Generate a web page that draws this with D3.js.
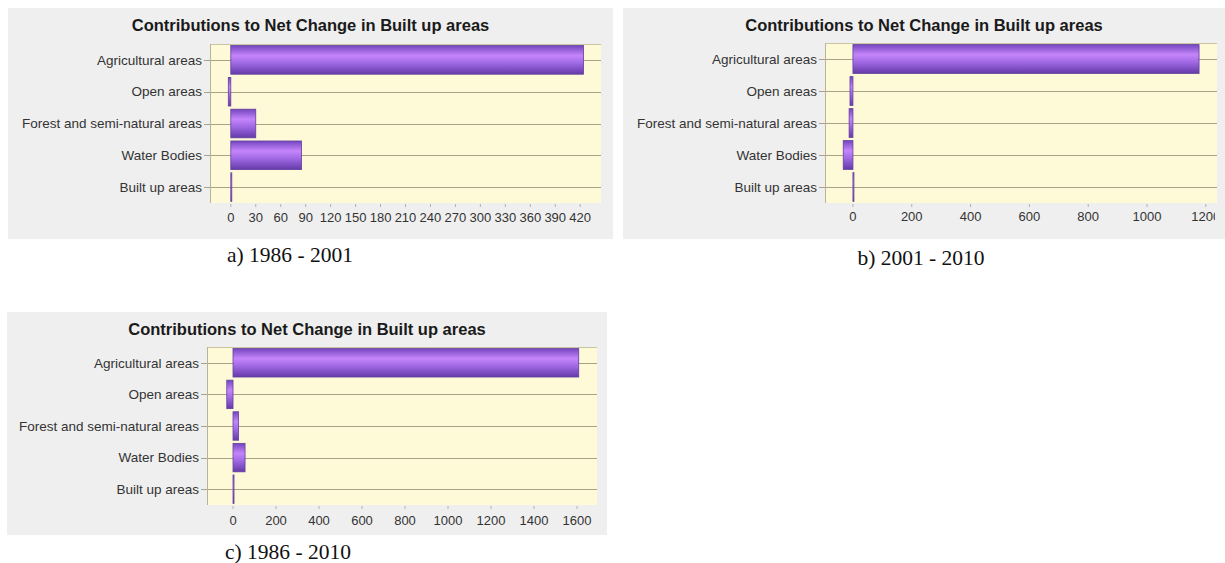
<!DOCTYPE html>
<html>
<head>
<meta charset="utf-8">
<script src="https://cdn.jsdelivr.net/npm/d3@7"></script>
<style>
  body { margin: 0; background: #fff; }
  svg { display: block; font-family: "Liberation Sans", Arial, sans-serif; }
</style>
</head>
<body>
<svg width="1225" height="563"></svg>
<script>
// categories (top to bottom)
const categories = ["Agricultural areas", "Open areas", "Forest and semi-natural areas", "Water Bodies", "Built up areas"]

// net change values
const values1986_2001 = [424, -3, 30, 85, 1]
const values2001_2010 = [1177, -10, -13, -33, 1]
const values1986_2010 = [1608, -29, 26, 56, 1]

// x tick labels
const ticks1986_2001 = [0, 30, 60, 90, 120, 150, 180, 210, 240, 270, 300, 330, 360, 390, 420]
const ticks2001_2010 = [0, 200, 400, 600, 800, 1000, 1200]
const ticks1986_2010 = [0, 200, 400, 600, 800, 1000, 1200, 1400, 1600]

const captions = ["a) 1986 - 2001", "b) 2001 - 2010", "c) 1986 - 2010"]
const title = "Contributions to Net Change in Built up areas"

let svg = d3.select("svg")

// bar gradient
let defs = svg.append("defs")
let grad = defs.append("linearGradient")
    .attr("id", "barGrad")
    .attr("x1", 0).attr("y1", 0).attr("x2", 0).attr("y2", 1)
grad.append("stop").attr("offset", "0%").attr("stop-color", "#7446c0")
grad.append("stop").attr("offset", "35%").attr("stop-color", "#c585fa")
grad.append("stop").attr("offset", "60%").attr("stop-color", "#a26ae6")
grad.append("stop").attr("offset", "100%").attr("stop-color", "#643aa8")

const panels = [
  {values: values1986_2001, ticks: ticks1986_2001, domain: [-25, 445], caption: captions[0],
   box: {x: 8, y: 8, w: 605, h: 231}, plot: {x0: 210, x1: 601, y0: 44, y1: 203},
   titleY: 31, tickY: 222, capX: 290, capY: 262, clip: null},
  {values: values2001_2010, ticks: ticks2001_2010, domain: [-95, 1238], caption: captions[1],
   box: {x: 623, y: 8, w: 602, h: 231}, plot: {x0: 825, x1: 1217, y0: 43, y1: 203},
   titleY: 31, tickY: 221, capX: 921, capY: 265, clip: 1215},
  {values: values1986_2010, ticks: ticks1986_2010, domain: [-121, 1693], caption: captions[2],
   box: {x: 7, y: 312, w: 600, h: 223}, plot: {x0: 207, x1: 597, y0: 347, y1: 505},
   titleY: 335, tickY: 525, capX: 288, capY: 559, clip: null}
]

panels.forEach((p, i) => drawPanel(p, i))

function drawPanel(p, i) {
  let g = svg.append("g")

  // gray frame
  g.append("rect")
    .attr("x", p.box.x).attr("y", p.box.y)
    .attr("width", p.box.w).attr("height", p.box.h)
    .attr("fill", "#efefef")

  g.append("text")
    .attr("x", p.box.x + p.box.w / 2)
    .attr("y", p.titleY)
    .attr("text-anchor", "middle")
    .attr("font-size", "16.5px")
    .attr("font-weight", "bold")
    .attr("fill", "#1a1a1a")
    .text(title)

  let x = d3.scaleLinear().domain(p.domain).range([p.plot.x0, p.plot.x1])
  let y = d3.scaleBand().domain(categories).range([p.plot.y0, p.plot.y1])
      .paddingInner(0.1).paddingOuter(0.05)

  // plot background
  g.append("rect")
    .attr("x", p.plot.x0).attr("y", p.plot.y0)
    .attr("width", p.plot.x1 - p.plot.x0).attr("height", p.plot.y1 - p.plot.y0)
    .attr("fill", "#fef9d7")

  // top border
  g.append("line")
    .attr("x1", p.plot.x0).attr("x2", p.plot.x1)
    .attr("y1", p.plot.y0 + 0.5).attr("y2", p.plot.y0 + 0.5)
    .attr("stroke", "#c9c4a4")

  // grid lines through category centres
  g.selectAll(".grid")
    .data(categories)
    .enter().append("line")
    .attr("x1", p.plot.x0 - 6).attr("x2", p.plot.x1)
    .attr("y1", d => Math.round(y(d) + y.bandwidth() / 2) + 0.5)
    .attr("y2", d => Math.round(y(d) + y.bandwidth() / 2) + 0.5)
    .attr("stroke", "#a8a386")
    .attr("stroke-width", 1)

  // y axis line
  g.append("line")
    .attr("x1", p.plot.x0 + 0.5).attr("x2", p.plot.x0 + 0.5)
    .attr("y1", p.plot.y0).attr("y2", p.plot.y1)
    .attr("stroke", "#b8b49a")

  // category labels
  g.selectAll(".cat")
    .data(categories)
    .enter().append("text")
    .attr("x", p.plot.x0 - 8)
    .attr("y", d => y(d) + y.bandwidth() / 2)
    .attr("dy", "0.35em")
    .attr("text-anchor", "end")
    .attr("font-size", "13.5px")
    .attr("fill", "#333")
    .text(d => d)

  // bars
  g.selectAll(".bar")
    .data(p.values)
    .enter().append("rect")
    .attr("x", d => x(Math.min(0, d)))
    .attr("y", (d, k) => y(categories[k]))
    .attr("width", d => Math.max(1, Math.abs(x(d) - x(0))))
    .attr("height", y.bandwidth())
    .attr("fill", "url(#barGrad)")
    .attr("stroke", "#633f9e")
    .attr("stroke-width", 0.8)

  // x axis
  let ax = g.append("g")
  if (p.clip) {
    defs.append("clipPath").attr("id", "clip" + i)
      .append("rect").attr("x", p.box.x).attr("y", p.box.y)
      .attr("width", p.clip - p.box.x).attr("height", p.box.h)
    ax.attr("clip-path", "url(#clip" + i + ")")
  }
  ax.selectAll(".tick")
    .data(p.ticks)
    .enter().append("line")
    .attr("x1", d => x(d)).attr("x2", d => x(d))
    .attr("y1", p.plot.y1 + 1).attr("y2", p.plot.y1 + 4)
    .attr("stroke", "#b0b0b0")
  ax.selectAll(".lbl")
    .data(p.ticks)
    .enter().append("text")
    .attr("x", d => x(d))
    .attr("y", p.tickY)
    .attr("text-anchor", "middle")
    .attr("font-size", "13px")
    .attr("fill", "#333")
    .text(d => d)

  // caption
  svg.append("text")
    .attr("x", p.capX)
    .attr("y", p.capY)
    .attr("text-anchor", "middle")
    .attr("font-family", "'Liberation Serif', 'Times New Roman', serif")
    .attr("font-size", "21.5px")
    .attr("fill", "#111")
    .text(p.caption)
}
</script>
</body>
</html>
